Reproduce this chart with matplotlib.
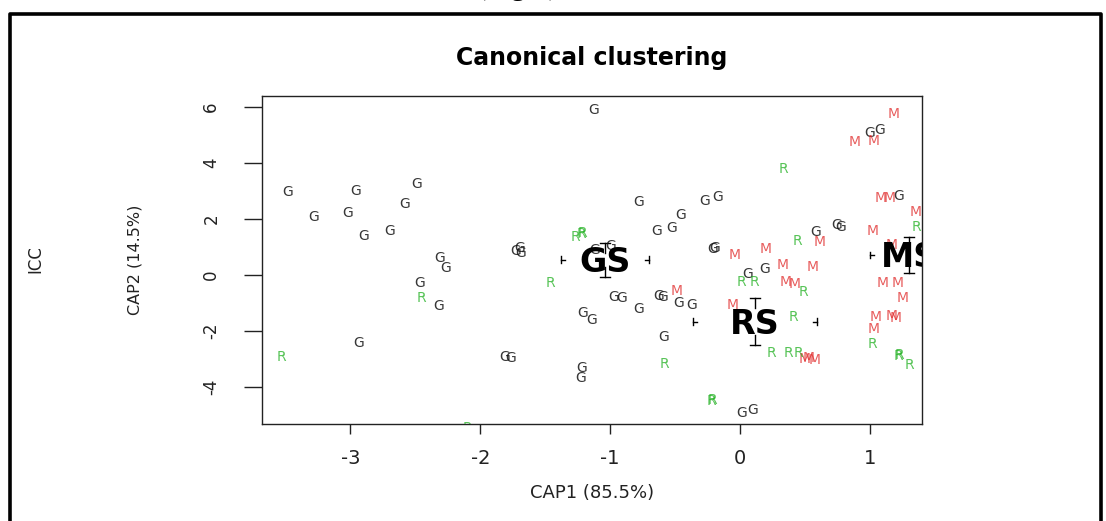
import matplotlib
matplotlib.use('Agg')
import matplotlib.pyplot as plt
from matplotlib.lines import Line2D

plt.rcParams['axes.unicode_minus'] = False

# point scores (CAP1, CAP2) per group
g_x = [-3.48, -2.96, -2.49, -2.58, -3.28, -3.02, -2.90, -2.70, -2.31, -2.27,
       -2.47, -2.32, -1.73, -1.70, -1.69, -2.94, -1.81, -1.77, -1.13, 1.00,
       1.07, 1.22, -0.78, -0.27, -0.17, -0.46, -0.64, -0.53, 0.58, 0.74,
       0.77, -1.00, -1.12, -0.21, -0.20, 0.19, 0.06, -0.97, -0.91, -0.63,
       -0.60, -0.47, -0.37, -0.78, -1.21, -1.14, -0.59, -1.22, -1.23, 0.01,
       0.10]
g_y = [2.96, 3.01, 3.25, 2.54, 2.08, 2.20, 1.40, 1.58, 0.60, 0.26,
       -0.30, -1.11, 0.85, 0.95, 0.78, -2.44, -2.92, -2.98, 5.89, 5.06,
       5.18, 2.82, 2.62, 2.65, 2.80, 2.14, 1.58, 1.68, 1.55, 1.79,
       1.70, 1.05, 0.90, 0.92, 0.95, 0.20, 0.02, -0.77, -0.83, -0.75,
       -0.80, -1.00, -1.07, -1.23, -1.37, -1.61, -2.20, -3.33, -3.69, -4.92,
       -4.82]

m_x = [1.18, 0.88, 1.03, 1.08, 1.15, 1.35, 1.02, 0.61, 1.17, -0.04,
       0.20, 0.33, 0.56, 0.35, 0.42, 1.10, 1.21, 1.25, -0.49, -0.06,
       1.04, 1.17, 1.20, 1.03, 0.50, 0.53, 0.57]
m_y = [5.75, 4.73, 4.80, 2.74, 2.74, 2.26, 1.58, 1.17, 1.07, 0.71,
       0.92, 0.36, 0.30, -0.24, -0.32, -0.30, -0.30, -0.81, -0.56, -1.07,
       -1.51, -1.45, -1.55, -1.94, -3.00, -2.95, -3.02]

r_x = [-2.45, -1.46, -3.53, -2.10, 0.33, 1.36, 0.44, -1.27, -1.21, -1.22,
       0.01, 0.11, 0.49, 0.41, 1.02, 1.22, 1.23, 1.30, 0.24, 0.37,
       0.45, -0.58, -0.22, -0.21]
r_y = [-0.83, -0.30, -2.94, -5.45, 3.77, 1.73, 1.21, 1.37, 1.49, 1.47,
       -0.24, -0.24, -0.60, -1.49, -2.46, -2.89, -2.86, -3.21, -2.80, -2.80,
       -2.77, -3.19, -4.50, -4.47]

# group centroids with error extents
groups = ['GS', 'RS', 'MS']
cent_x = [-1.04, 0.115, 1.30]
cent_y = [0.54, -1.665, 0.715]
se_x = [0.335, 0.475, 0.30]
se_y = [0.60, 0.835, 0.655]

fig = plt.figure(figsize=(11.06, 5.21), dpi=100)
ax = fig.add_axes([262 / 1106, 1 - 424 / 521, 660 / 1106, 328 / 521])

pts = [(g_x, g_y, 'G', '#151515', 0.85),
       (m_x, m_y, 'M', '#e02828', 0.75),
       (r_x, r_y, 'R', '#20b020', 0.75)]
for xs, ys, lab, col, a in pts:
    for x, y in zip(xs, ys):
        ax.text(x, y, lab, color=col, alpha=a, fontsize=10, ha='center',
                va='center', clip_on=True, zorder=3)

# error bar ends: caps with short stems (inner part hidden in original)
for cx, cy, ex, ey in zip(cent_x, cent_y, se_x, se_y):
    for s in (1, -1):
        ax.plot([cx - 0.04, cx + 0.04], [cy + s * ey] * 2, color='black', lw=1, zorder=2)
        ax.plot([cx, cx], [cy + s * ey, cy + s * (ey - 0.35)], color='black', lw=1, zorder=2)
        ax.plot([cx + s * ex] * 2, [cy - 0.12, cy + 0.12], color='black', lw=1, zorder=2)
        ax.plot([cx + s * ex, cx + s * (ex - 0.03)], [cy, cy], color='black', lw=1, zorder=2)

for lab, cx, cy in zip(groups, cent_x, cent_y):
    ax.text(cx, cy - 0.1, lab, fontsize=24, fontweight='bold', ha='center',
            va='center', clip_on=True, zorder=4)

ax.set_xlim(-3.68, 1.40)
ax.set_ylim(-5.32, 6.39)
ax.set_xticks([-3, -2, -1, 0, 1])
ax.set_yticks([-4, -2, 0, 2, 4, 6])
ax.tick_params(axis='x', length=7, width=1, labelsize=14, pad=11, colors='#222222')
ax.tick_params(axis='y', length=13, width=1, labelsize=12, pad=17, colors='#222222')
for t in ax.get_yticklabels():
    t.set_rotation(90)
    t.set_va('center')
for sp in ax.spines.values():
    sp.set_linewidth(1.0)
    sp.set_color('#222222')

ax.set_xlabel('CAP1 (85.5%)', fontsize=13, color='#222222')
ax.xaxis.set_label_coords(0.5, -0.21)
ax.xaxis.label.set_va('center')
ax.set_ylabel('CAP2 (14.5%)', fontsize=11.5, color='#222222')
ax.yaxis.set_label_coords(-0.1924, 0.5)
ax.yaxis.label.set_va('center')

fig.text(35 / 1106, 1 - 259 / 521, 'ICC', rotation=90, fontsize=12,
         ha='center', va='center', color='#222222')
fig.text(592 / 1106, 1 - 58 / 521, 'Canonical clustering', fontsize=17,
         fontweight='bold', ha='center', va='center')
fig.text(476 / 1106, 1.011, '(Fig.1)', fontsize=22, family='Liberation Serif',
         ha='left', va='baseline')

# outer frame of the original figure
fx = [9.5 / 1106, 9.5 / 1106, 1100.5 / 1106, 1100.5 / 1106]
fy = [0, 1 - 13.5 / 521, 1 - 13.5 / 521, 0]
fig.add_artist(Line2D(fx, fy, transform=fig.transFigure, color='black', lw=2.6))

fig.savefig('out.png', dpi=100)
